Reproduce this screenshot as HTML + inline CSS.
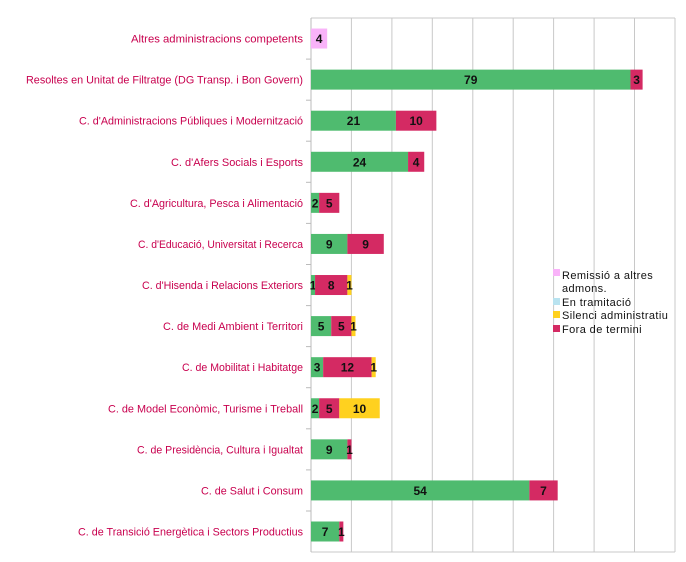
<!DOCTYPE html>
<html><head><meta charset="utf-8"><style>
html,body{margin:0;padding:0;background:#fff;}
svg{display:block;}
text{font-family:"Liberation Sans",sans-serif;}
</style></head><body>
<svg width="686" height="562" viewBox="0 0 686 562" xmlns="http://www.w3.org/2000/svg">
<g stroke="#c8c8c8" stroke-width="1">
<line x1="311" y1="18" x2="675" y2="18"/>
<line x1="351.4" y1="18" x2="351.4" y2="552"/>
<line x1="391.9" y1="18" x2="391.9" y2="552"/>
<line x1="432.3" y1="18" x2="432.3" y2="552"/>
<line x1="472.8" y1="18" x2="472.8" y2="552"/>
<line x1="513.2" y1="18" x2="513.2" y2="552"/>
<line x1="553.6" y1="18" x2="553.6" y2="552"/>
<line x1="594.1" y1="18" x2="594.1" y2="552"/>
<line x1="634.5" y1="18" x2="634.5" y2="552"/>
<line x1="675" y1="18" x2="675" y2="552"/>
<line x1="311" y1="552" x2="675" y2="552"/>
</g>
<line x1="311" y1="18" x2="311" y2="552" stroke="#bbb"/>
<g stroke="#bbb">
<line x1="306" y1="59.1" x2="311" y2="59.1"/><line x1="306" y1="100.2" x2="311" y2="100.2"/>
<line x1="306" y1="141.2" x2="311" y2="141.2"/><line x1="306" y1="182.3" x2="311" y2="182.3"/>
<line x1="306" y1="223.4" x2="311" y2="223.4"/><line x1="306" y1="264.5" x2="311" y2="264.5"/>
<line x1="306" y1="305.6" x2="311" y2="305.6"/><line x1="306" y1="346.6" x2="311" y2="346.6"/>
<line x1="306" y1="387.7" x2="311" y2="387.7"/><line x1="306" y1="428.8" x2="311" y2="428.8"/>
<line x1="306" y1="469.9" x2="311" y2="469.9"/><line x1="306" y1="511" x2="311" y2="511"/>
</g>
<g id="bars"></g>
<g fill="#c8004e" font-size="11" id="labels"></g>
<g font-size="11" fill="#111" letter-spacing="0.4">
<rect x="553" y="269" width="7" height="7" fill="#f9b3f9"/>
<text x="562" y="279">Remissió a altres</text>
<text x="562" y="292">admons.</text>
<rect x="553" y="298" width="7" height="7" fill="#b9e3f0"/>
<text x="562" y="306">En tramitació</text>
<rect x="553" y="311" width="7" height="7" fill="#ffd11f"/>
<text x="562" y="319">Silenci administratiu</text>
<rect x="553" y="325" width="7" height="7" fill="#d42a63"/>
<text x="562" y="333">Fora de termini</text>
</g>
</svg>
<script>
var G='#4fbb6f',R='#d42a63',P='#f9b3f9',Y='#ffd11f';
var rows=[
["Altres  administracions competents",131,[[4,P]]],
["Resoltes  en Unitat de Filtratge (DG Transp. i Bon Govern)",26,[[79,G],[3,R]]],
["C. d'Administracions Públiques i Modernització",79,[[21,G],[10,R]]],
["C.  d'Afers Socials i Esports",171,[[24,G],[4,R]]],
["C. d'Agricultura, Pesca i Alimentació",130,[[2,G],[5,R]]],
["C. d'Educació, Universitat i Recerca",138,[[9,G],[9,R]]],
["C.  d'Hisenda i Relacions Exteriors",142,[[1,G],[8,R],[1,Y]]],
["C. de Medi Ambient i Territori",163,[[5,G],[5,R],[1,Y]]],
["C. de Mobilitat i Habitatge",182,[[3,G],[12,R],[1,Y]]],
["C. de Model Econòmic, Turisme i Treball",108,[[2,G],[5,R],[10,Y]]],
["C. de Presidència, Cultura i Igualtat",137,[[9,G],[1,R]]],
["C. de Salut i Consum",201,[[54,G],[7,R]]],
["C.  de Transició Energètica i Sectors Productius",78,[[7,G],[1,R]]]];
var ns='http://www.w3.org/2000/svg',b=document.getElementById('bars'),l=document.getElementById('labels');
var u=4.044,rh=41.08;
rows.forEach(function(r,i){
 var cy=18+rh*(i+0.5),x=311;
 var t=document.createElementNS(ns,'text');t.setAttribute('x',r[1]);t.setAttribute('y',cy+4);
 t.setAttribute('textLength',303-r[1]);t.setAttribute('lengthAdjust','spacingAndGlyphs');t.textContent=r[0];l.appendChild(t);
 r[2].forEach(function(s){
  var w=s[0]*u,e=document.createElementNS(ns,'rect');
  e.setAttribute('x',x);e.setAttribute('y',cy-10);e.setAttribute('width',w);e.setAttribute('height',20);e.setAttribute('fill',s[1]);b.appendChild(e);
  var tt=document.createElementNS(ns,'text');tt.setAttribute('x',x+w/2);tt.setAttribute('y',cy+4.5);
  tt.setAttribute('text-anchor','middle');tt.setAttribute('font-size','12');tt.setAttribute('font-weight','bold');tt.setAttribute('fill','#111');
  tt.textContent=s[0];b.appendChild(tt);x+=w;});
});
</script>
</body></html>
